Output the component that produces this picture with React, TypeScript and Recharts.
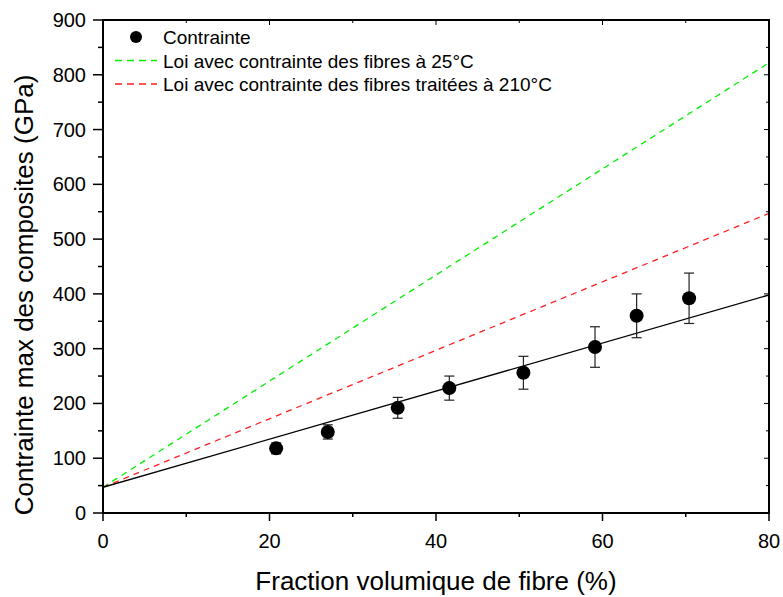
import {
  ComposedChart,
  ErrorBar,
  Line,
  Scatter,
  XAxis,
  YAxis,
} from "recharts";

const fraction = [20.8, 27.0, 35.4, 41.6, 50.5, 59.1, 64.1, 70.4];
const contrainte = [118, 148, 192, 228, 256, 303, 360, 392];
const erreur = [10, 13, 19, 22, 30, 37, 40, 46];

const loiX = [0, 80];
const loiExp = [47, 398];
const loi25 = [47, 822];
const loi210 = [47, 547];

const xTicks = [0, 10, 20, 30, 40, 50, 60, 70, 80];
const yTicks = [0, 50, 100, 150, 200, 250, 300, 350, 400, 450, 500, 550, 600, 650, 700, 750, 800, 850, 900];

const points = fraction.map((x, i) => ({ x, y: contrainte[i], err: erreur[i] }));
const lineExp = loiX.map((x, i) => ({ x, y: loiExp[i] }));
const line25 = loiX.map((x, i) => ({ x, y: loi25[i] }));
const line210 = loiX.map((x, i) => ({ x, y: loi210[i] }));

const FONT = "'Liberation Sans', Arial, sans-serif";

const W = 783;
const H = 597;
const MARGIN = { top: 20, right: 14, left: 0, bottom: 0 };
const Y_AXIS_W = 103;
const X_AXIS_H = 84;
// plot box, used for the closed frame and the inward ticks on top / right
const PLOT_X = MARGIN.left + Y_AXIS_W;
const PLOT_Y = MARGIN.top;
const PLOT_W = W - Y_AXIS_W - MARGIN.left - MARGIN.right;
const PLOT_H = H - MARGIN.top - MARGIN.bottom - X_AXIS_H;
const X_MAX = xTicks[xTicks.length - 1];
const Y_MAX = yTicks[yTicks.length - 1];

function BottomTick(props: { x?: number; y?: number; payload?: { value?: number } }) {
  const { x = 0, y = 0, payload } = props;
  const v = payload?.value ?? 0;
  const major = v % 20 === 0;
  return (
    <g>
      <line x1={x} x2={x} y1={y} y2={y + (major ? 8 : 4)} stroke="#000" strokeWidth={1.5} />
      {major && (
        <text x={x} y={y + 35} textAnchor="middle" fontSize={20} fill="#000" fontFamily={FONT}>
          {v}
        </text>
      )}
    </g>
  );
}

function LeftTick(props: { x?: number; y?: number; payload?: { value?: number } }) {
  const { x = 0, y = 0, payload } = props;
  const v = payload?.value ?? 0;
  const major = v % 100 === 0;
  return (
    <g>
      <line x1={x - (major ? 10 : 5)} x2={x} y1={y} y2={y} stroke="#000" strokeWidth={1.5} />
      {major && (
        <text x={x - 17} y={y + 7} textAnchor="end" fontSize={20} fill="#000" fontFamily={FONT}>
          {v}
        </text>
      )}
    </g>
  );
}

function Dot(props: { cx?: number; cy?: number }) {
  const { cx = 0, cy = 0 } = props;
  return <circle cx={cx} cy={cy} r={7} fill="#000" />;
}

/** Top and right edges of the Origin-style box with their inward ticks. */
function FrameOverlay() {
  return (
    <svg
      width={W}
      height={H}
      style={{ position: "absolute", left: 0, top: 0, pointerEvents: "none" }}
    >
      <rect x={PLOT_X} y={PLOT_Y} width={PLOT_W} height={PLOT_H} fill="none" stroke="#000" strokeWidth={2} />
      {xTicks.map((v) => {
        const x = PLOT_X + (v / X_MAX) * PLOT_W;
        return (
          <line key={`t${v}`} x1={x} x2={x} y1={PLOT_Y} y2={PLOT_Y + (v % 20 === 0 ? 5 : 3)} stroke="#000" strokeWidth={1} />
        );
      })}
      {yTicks.map((v) => {
        const y = PLOT_Y + PLOT_H - (v / Y_MAX) * PLOT_H;
        const r = PLOT_X + PLOT_W;
        return (
          <line key={`r${v}`} x1={r - (v % 100 === 0 ? 5 : 3)} x2={r} y1={y} y2={y} stroke="#000" strokeWidth={1} />
        );
      })}
    </svg>
  );
}

function LegendBox() {
  const rows = [
    { label: "Contrainte", kind: "dot", color: "#000" },
    { label: "Loi avec contrainte des fibres à 25°C", kind: "dash", color: "#00ee00" },
    { label: "Loi avec contrainte des fibres traitées à 210°C", kind: "dash", color: "#ff2020" },
  ];
  return (
    <svg width={500} height={80} style={{ position: "absolute", left: 110, top: 25 }}>
      {rows.map((r, i) => {
        const cy = 12 + i * 23.5;
        return (
          <g key={r.label}>
            {r.kind === "dot" ? (
              <circle cx={26} cy={cy} r={6} fill={r.color} />
            ) : (
              <line x1={5} x2={47} y1={cy} y2={cy} stroke={r.color} strokeWidth={1.3} strokeDasharray="7 5" />
            )}
            <text x={53} y={cy + 7} fontSize={19} fill="#000" fontFamily={FONT}>
              {r.label}
            </text>
          </g>
        );
      })}
    </svg>
  );
}

export default function App() {
  return (
    <div style={{ position: "absolute", left: 0, top: 0, width: W, height: H, background: "#fff" }}>
      <ComposedChart width={W} height={H} data={points} margin={MARGIN}>
        <XAxis
          type="number"
          dataKey="x"
          domain={[0, X_MAX]}
          ticks={xTicks}
          interval={0}
          height={X_AXIS_H}
          tickSize={0}
          tickMargin={0}
          tickLine={false}
          stroke="#000"
          strokeWidth={2}
          tick={<BottomTick />}
          allowDataOverflow
        />
        <YAxis
          type="number"
          domain={[0, Y_MAX]}
          ticks={yTicks}
          interval={0}
          width={Y_AXIS_W}
          tickSize={0}
          tickMargin={0}
          tickLine={false}
          stroke="#000"
          strokeWidth={2}
          tick={<LeftTick />}
          allowDataOverflow
        />
        <Line
          data={line25}
          dataKey="y"
          type="linear"
          stroke="#00ee00"
          strokeWidth={1.3}
          strokeDasharray="6 5"
          dot={false}
          isAnimationActive={false}
        />
        <Line
          data={line210}
          dataKey="y"
          type="linear"
          stroke="#ff2020"
          strokeWidth={1.3}
          strokeDasharray="6 5"
          dot={false}
          isAnimationActive={false}
        />
        <Line
          data={lineExp}
          dataKey="y"
          type="linear"
          stroke="#000"
          strokeWidth={1.3}
          dot={false}
          isAnimationActive={false}
        />
        <Scatter dataKey="y" shape={<Dot />} isAnimationActive={false}>
          <ErrorBar dataKey="err" direction="y" width={5} stroke="#222" strokeWidth={1.2} isAnimationActive={false} />
        </Scatter>
        <text
          x={33}
          y={295}
          transform="rotate(-90, 33, 295)"
          textAnchor="middle"
          fontSize={26}
          fill="#000"
          fontFamily={FONT}
        >
          Contrainte max des composites (GPa)
        </text>
        <text x={436} y={590} textAnchor="middle" fontSize={26} fill="#000" fontFamily={FONT}>
          Fraction volumique de fibre (%)
        </text>
      </ComposedChart>
      <FrameOverlay />
      <LegendBox />
    </div>
  );
}
